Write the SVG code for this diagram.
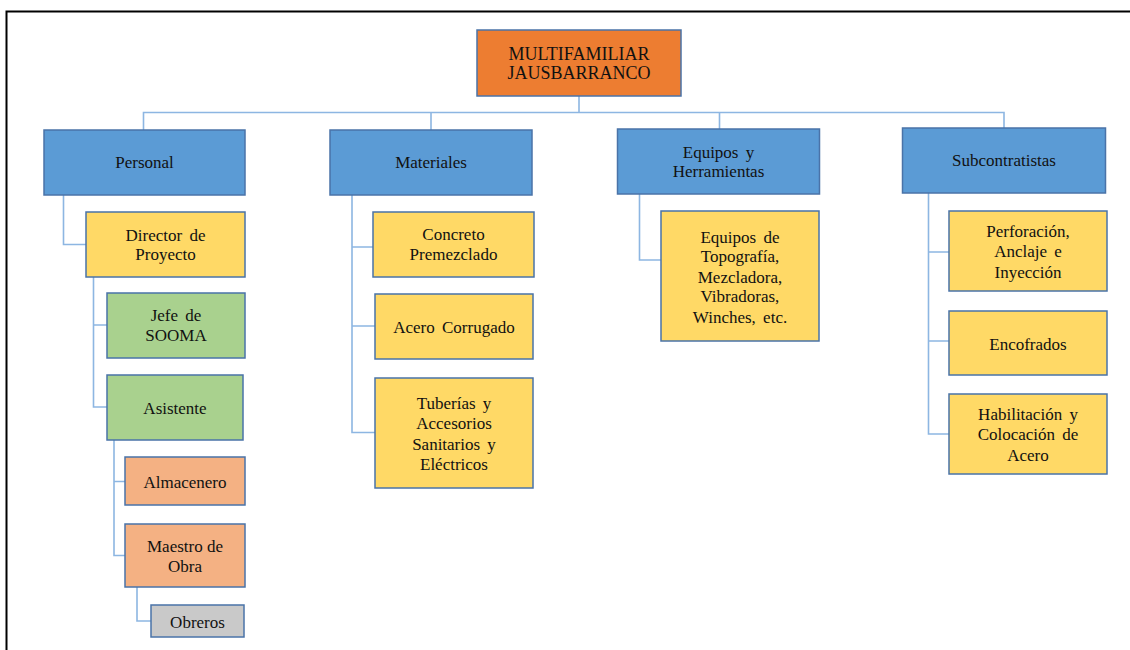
<svg xmlns="http://www.w3.org/2000/svg" width="1130" height="650" viewBox="0 0 1130 650">
  <style>
    .box { stroke: #4A73A8; stroke-width: 1.5; }
    .root { fill: #ED7D31; }
    .blue { fill: #5B9BD5; }
    .yellow { fill: #FFD966; }
    .green { fill: #A9D18E; }
    .salmon { fill: #F4B183; }
    .grey { fill: #C9C9C9; }
    .lbl { font-family: "Liberation Serif", "Times New Roman", serif; font-size: 17px; fill: #111; text-anchor: middle; }
    .cond { font-size: 18px; }
    .ws { word-spacing: 3px; }
    .links path { fill: none; stroke: #8DB6E2; stroke-width: 1.6; }
  </style>

  <!-- page frame -->
  <path d="M6.5 650 V11.5 H1130" fill="none" stroke="#000" stroke-width="2"/>

  <!-- connectors -->
  <g class="links">
    <path d="M579 96 V112.5 M143.5 130 V112.5 H1004 V128 M431 130 V112.5 M719.5 129 V112.5"/>
    <path d="M63.5 195 V244.5 H86"/>
    <path d="M93.5 277 V407 H107 M93.5 325 H107"/>
    <path d="M114 440 V555.5 H125 M114 481.5 H125"/>
    <path d="M137 587 V621 H151"/>
    <path d="M352 195 V432.5 H375 M352 247 H373 M352 326 H375"/>
    <path d="M639.5 194 V260 H661"/>
    <path d="M928.5 193 V434 H949 M928.5 252 H949 M928.5 341 H949"/>
  </g>

  <g id="root">
    <rect class="box root" x="477" y="30" width="204" height="66"/>
    <text class="lbl cond" x="579" y="60">MULTIFAMILIAR</text>
    <text class="lbl cond" x="579" y="79">JAUSBARRANCO</text>
  </g>

  <g id="personal">
    <rect class="box blue" x="44" y="130" width="201" height="65"/>
    <text class="lbl" x="144.5" y="168">Personal</text>
  </g>
  <g id="materiales">
    <rect class="box blue" x="330" y="130" width="202" height="65"/>
    <text class="lbl" x="431" y="168">Materiales</text>
  </g>
  <g id="equipos">
    <rect class="box blue" x="617.5" y="129" width="202" height="65"/>
    <text class="lbl ws" x="718.5" y="158">Equipos y</text>
    <text class="lbl" x="718.5" y="177">Herramientas</text>
  </g>
  <g id="subcontratistas">
    <rect class="box blue" x="902.5" y="128" width="203" height="65"/>
    <text class="lbl" x="1004" y="166">Subcontratistas</text>
  </g>

  <g id="director">
    <rect class="box yellow" x="86" y="212" width="159" height="65"/>
    <text class="lbl ws" x="165.5" y="241">Director de</text>
    <text class="lbl" x="165.5" y="260">Proyecto</text>
  </g>
  <g id="jefe-sooma">
    <rect class="box green" x="107" y="293" width="138" height="65"/>
    <text class="lbl ws" x="176" y="321">Jefe de</text>
    <text class="lbl" x="176" y="341">SOOMA</text>
  </g>
  <g id="asistente">
    <rect class="box green" x="107" y="375" width="136" height="65"/>
    <text class="lbl" x="175" y="413.5">Asistente</text>
  </g>
  <g id="almacenero">
    <rect class="box salmon" x="125" y="457" width="120" height="48"/>
    <text class="lbl" x="185" y="487.5">Almacenero</text>
  </g>
  <g id="maestro">
    <rect class="box salmon" x="125" y="524" width="120" height="63"/>
    <text class="lbl" x="185" y="552">Maestro de</text>
    <text class="lbl" x="185" y="572">Obra</text>
  </g>
  <g id="obreros">
    <rect class="box grey" x="151" y="605" width="93" height="32"/>
    <text class="lbl" x="197.5" y="627.5">Obreros</text>
  </g>

  <g id="concreto">
    <rect class="box yellow" x="373" y="212" width="161" height="65"/>
    <text class="lbl" x="453.5" y="240">Concreto</text>
    <text class="lbl" x="453.5" y="259.5">Premezclado</text>
  </g>
  <g id="acero">
    <rect class="box yellow" x="375" y="294" width="158" height="65"/>
    <text class="lbl ws" x="454" y="333">Acero Corrugado</text>
  </g>
  <g id="tuberias">
    <rect class="box yellow" x="375" y="378" width="158" height="110"/>
    <text class="lbl ws" x="454" y="408.5">Tuberías y</text>
    <text class="lbl" x="454" y="428.5">Accesorios</text>
    <text class="lbl ws" x="454" y="450">Sanitarios y</text>
    <text class="lbl" x="454" y="469.5">Eléctricos</text>
  </g>

  <g id="equipos-detalle">
    <rect class="box yellow" x="661" y="211" width="158" height="130"/>
    <text class="lbl ws" x="740" y="242.5">Equipos de</text>
    <text class="lbl" x="740" y="262">Topografía,</text>
    <text class="lbl" x="740" y="283">Mezcladora,</text>
    <text class="lbl" x="740" y="302">Vibradoras,</text>
    <text class="lbl ws" x="740" y="323">Winches, etc.</text>
  </g>

  <g id="perforacion">
    <rect class="box yellow" x="949" y="211" width="158" height="80"/>
    <text class="lbl" x="1028" y="237">Perforación,</text>
    <text class="lbl ws" x="1028" y="257">Anclaje e</text>
    <text class="lbl" x="1028" y="277.5">Inyección</text>
  </g>
  <g id="encofrados">
    <rect class="box yellow" x="949" y="311" width="158" height="64"/>
    <text class="lbl" x="1028" y="349.5">Encofrados</text>
  </g>
  <g id="habilitacion">
    <rect class="box yellow" x="949" y="394" width="158" height="80"/>
    <text class="lbl ws" x="1028" y="420">Habilitación y</text>
    <text class="lbl ws" x="1028" y="440">Colocación de</text>
    <text class="lbl" x="1028" y="461">Acero</text>
  </g>
</svg>
